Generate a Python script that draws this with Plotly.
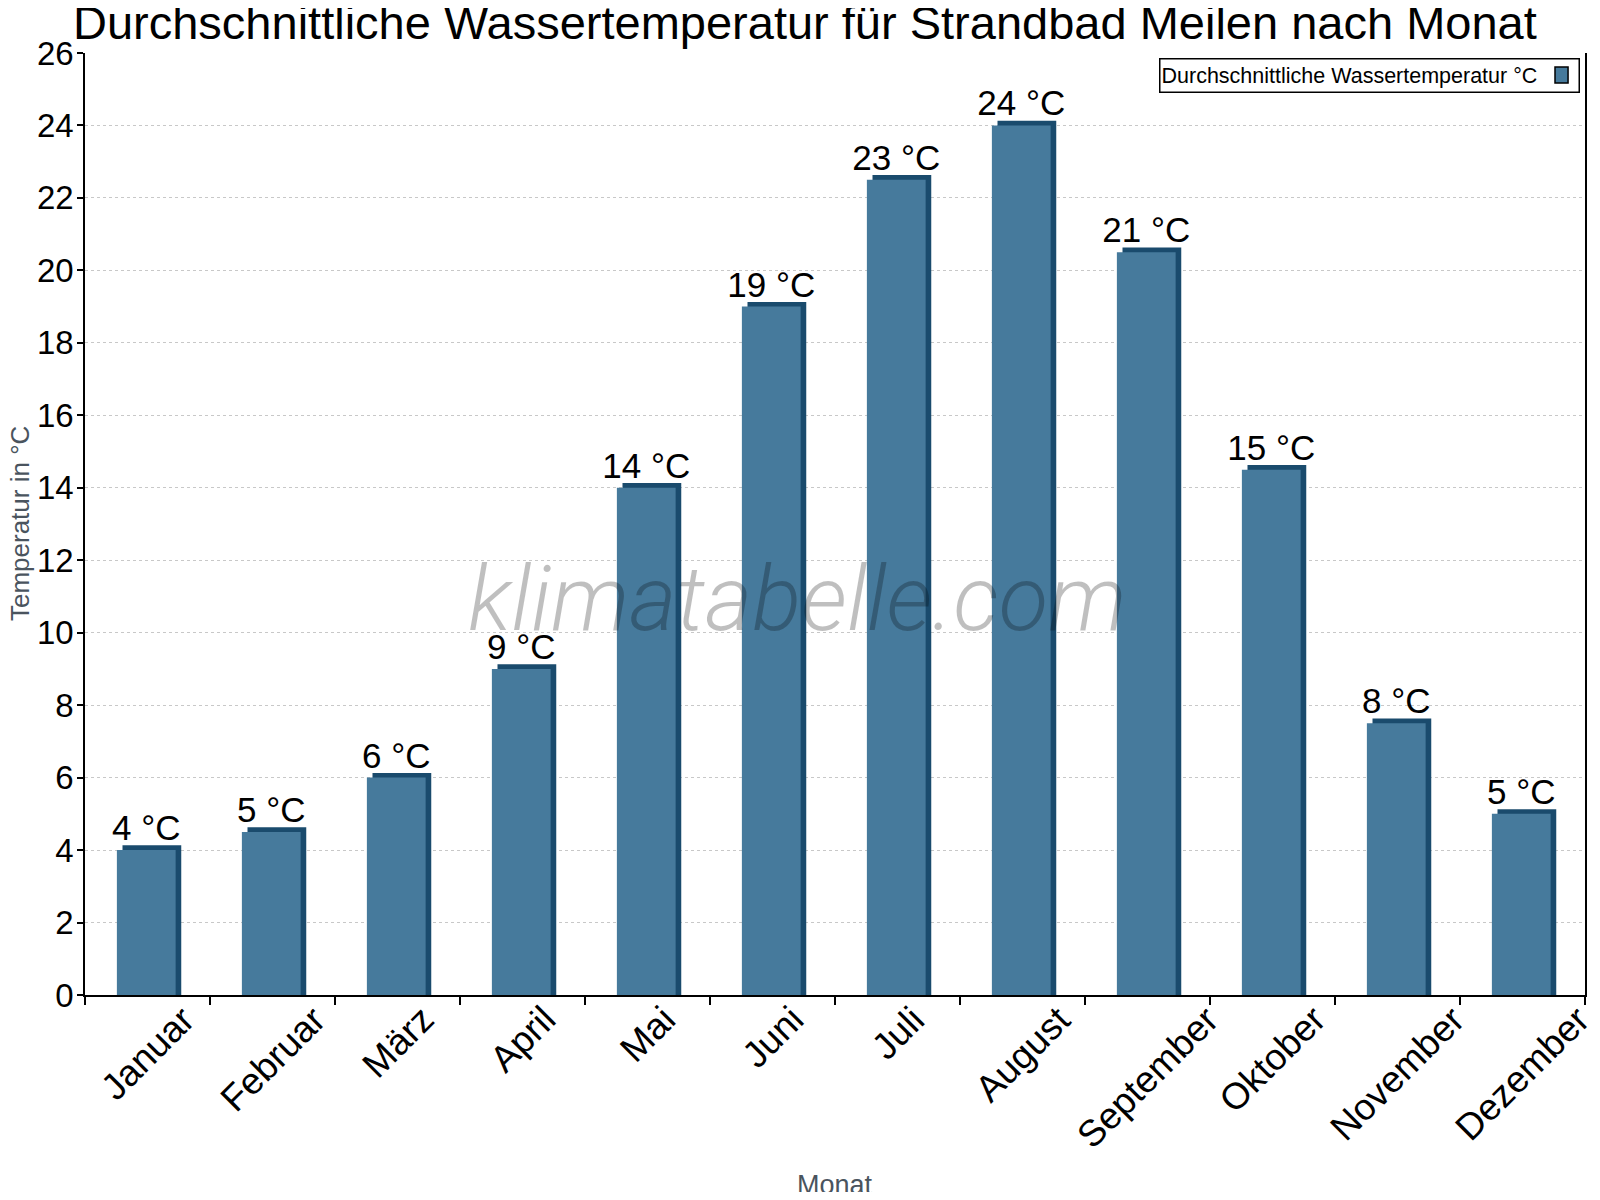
import plotly.graph_objects as go

monate = ['Januar', 'Februar', 'März', 'April', 'Mai', 'Juni', 'Juli',
          'August', 'September', 'Oktober', 'November', 'Dezember']
wassertemp = [4, 4.5, 6, 9, 14, 19, 22.5, 24, 20.5, 14.5, 7.5, 5]
labels = ['4 °C', '5 °C', '6 °C', '9 °C', '14 °C', '19 °C', '23 °C',
          '24 °C', '21 °C', '15 °C', '8 °C', '5 °C']
y_ticks = list(range(0, 27, 2))

blau = '#467a9c'
dunkel = '#1a4b6d'
grau = '#4a545e'
schrift = 'Liberation Sans, Arial, sans-serif'

fig = go.Figure()

# dunkle "3D"-Kante hinter dem Balken (leicht versetzt)
fig.add_trace(go.Bar(
    x=monate, y=[v + 0.13 for v in wassertemp],
    width=0.47, offset=-0.2,
    marker=dict(color=dunkel, line=dict(width=0)),
    hoverinfo='skip', showlegend=False,
))

fig.add_trace(go.Bar(
    x=monate, y=wassertemp,
    width=0.47, offset=-0.245,
    marker=dict(color=blau, line=dict(width=0)),
    text=labels, textposition='outside', cliponaxis=False, constraintext='none',
    textfont=dict(size=35, color='black', family=schrift),
    name='Durchschnittliche Wassertemperatur °C',
    showlegend=False,
))

# Seite hat 8px Rand im Browser -> Figur etwas kleiner
fig.update_layout(
    width=1584, height=1184,
    barmode='overlay',
    plot_bgcolor='white', paper_bgcolor='white',
    margin=dict(l=77, r=7, t=45, b=197),
    font=dict(family=schrift, color='black'),
)

fig.update_yaxes(
    range=[0, 26], tickvals=y_ticks,
    showline=True, linecolor='black', linewidth=1.5, mirror=True,
    ticks='outside', ticklen=6, tickcolor='black', tickwidth=1.5,
    tickfont=dict(size=33, color='black'), ticklabelstandoff=-3,
    showgrid=True, gridcolor='#c8c8c8', griddash='dot', gridwidth=1,
    zeroline=False, automargin=False,
)

fig.update_xaxes(
    range=[-0.5, len(monate) - 0.5],
    showline=True, linecolor='black', linewidth=1.5,
    ticks='outside', ticklen=8, tickcolor='black', tickwidth=1.5,
    tickson='boundaries', showticklabels=False,
    automargin=False,
)

# Monatsnamen schräg, mittig unter der Kategorie
for m in monate:
    fig.add_annotation(
        text=m, x=m, xref='x', yref='paper', y=-0.001,
        xanchor='center', yanchor='top', textangle=-45, showarrow=False,
        font=dict(size=37, color='black'),
    )

# Titel
fig.add_annotation(
    text='Durchschnittliche Wassertemperatur für Strandbad Meilen nach Monat',
    xref='paper', yref='paper', x=0.48, y=1.0329,
    xanchor='center', yanchor='middle', showarrow=False,
    font=dict(size=47, color='black'),
)

# Achsentitel
fig.add_annotation(
    text='Monat', xref='paper', yref='paper', x=0.5, y=-0.2017,
    xanchor='center', yanchor='middle', showarrow=False,
    font=dict(size=27, color=grau),
)
fig.add_annotation(
    text='Temperatur in °C', xref='paper', yref='paper', x=-0.0433, y=0.5,
    xanchor='center', yanchor='middle', textangle=-90, showarrow=False,
    font=dict(size=26, color=grau),
)

# Wasserzeichen
fig.add_annotation(
    text='klimatabelle.com', xref='paper', yref='paper', x=0.475, y=0.42,
    showarrow=False,
    font=dict(family='Roboto', size=91, color='rgba(0,0,0,0.25)', style='italic', weight=300),
)

# Legende (Symbol rechts vom Text)
fig.add_annotation(
    text='Durchschnittliche Wassertemperatur °C', xref='paper', yref='paper',
    x=0.9967, y=0.9947, xanchor='right', yanchor='top',
    width=416, height=30, align='left', showarrow=False,
    bordercolor='black', borderwidth=1.5, borderpad=1,
    font=dict(size=21.5, color='black'),
)
fig.add_shape(
    type='rect', xref='paper', yref='paper', layer='above',
    x0=0.98, x1=0.9887, y0=0.9682, y1=0.9851,
    fillcolor=blau, line=dict(color='black', width=1.5),
)

fig.write_html('out.html')
